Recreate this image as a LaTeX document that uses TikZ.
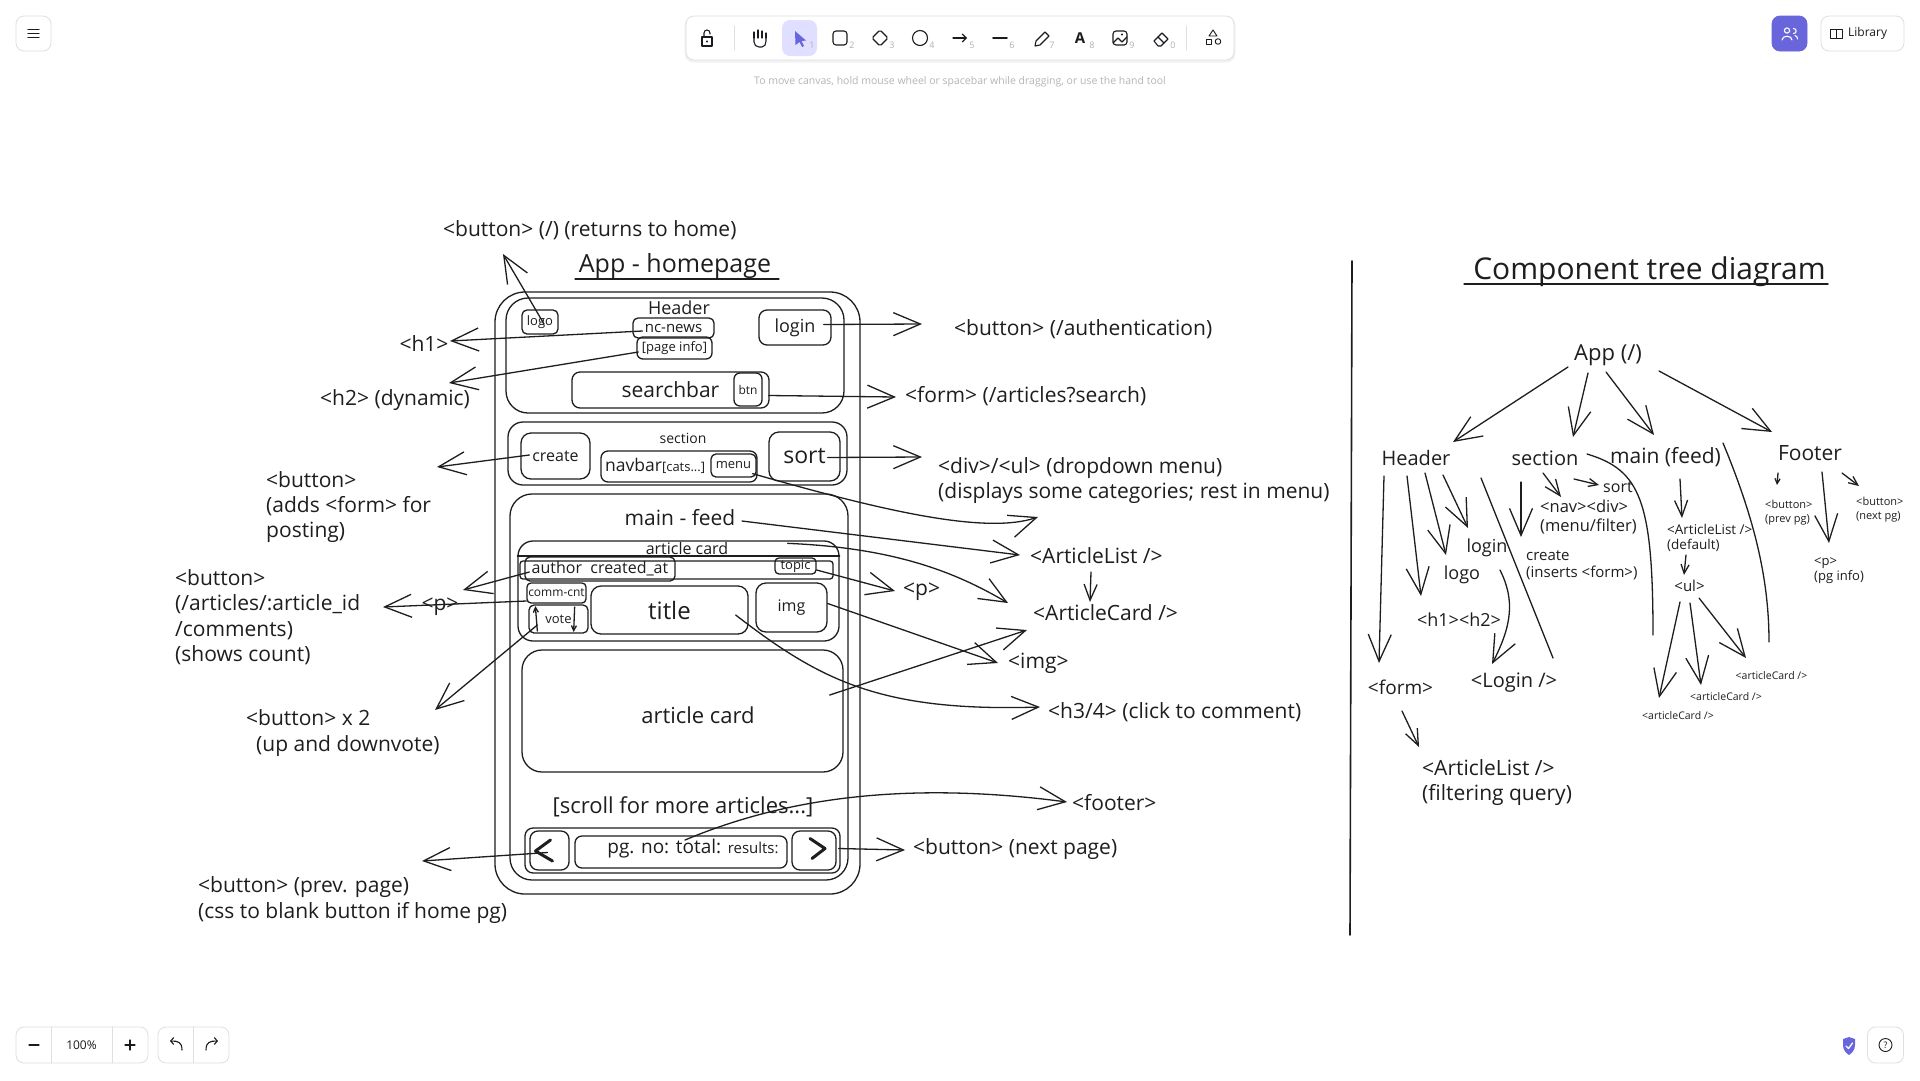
\documentclass[tikz,border=0pt]{standalone}
\usepackage{fontspec}
\setmainfont{Open Sans}
\usetikzlibrary{arrows.meta,calc}
\definecolor{ink}{HTML}{1E1E1E}
\definecolor{exc}{HTML}{6965DB}
\definecolor{selbg}{HTML}{E0DFFF}
\definecolor{uiline}{HTML}{DEDEE4}
\definecolor{hint}{HTML}{B5B5B5}
\definecolor{uiicon}{HTML}{1B1B1F}
\definecolor{digit}{HTML}{B0B0B8}
\tikzset{
  fs/.code={\pgfmathsetmacro\fsbs{1.21*#1}\edef\fstmp{\noexpand\tikzset{font=\noexpand\fontsize{#1}{\fsbs}\noexpand\selectfont}}\fstmp},
  fsb/.style 2 args={font=\fontsize{#1}{#2}\selectfont},
  bx/.style={draw=ink, line width=1.3pt, inner sep=0pt, text=ink, rounded corners=#1},
  ctr/.style={inner sep=0pt, text=ink},
  lbl/.style={inner sep=0pt, anchor=west, align=left, text=ink, fs=21},
  ln/.style={draw=ink, line width=1.3pt},
  arr/.style={ln, -{Straight Barb[length=27pt,width=23pt]}},
  arrm/.style={ln, -{Straight Barb[length=16pt,width=13pt]}},
  arrs/.style={ln, -{Straight Barb[length=9pt,width=8pt]}},
  arrt/.style={ln, -{Straight Barb[length=5pt,width=5pt]}},
  uibtn/.style={draw=uiline, fill=white, rounded corners=8pt, line width=0.8pt, inner sep=0pt},
  uiic/.style={draw=uiicon, line width=1.1pt},
}
\newcommand\wbox[8][16]{\node[bx=#7, fs=#1, minimum width=#5pt, minimum height=#6pt] (#2) at (#3,#4) {#8};}
\begin{document}
\begin{tikzpicture}[x=1pt,y=-1pt,line cap=round,line join=round]
\useasboundingbox[fill=white] (0,0) rectangle (1920,1080);

% ---------------- UI chrome ----------------
\node[uibtn, minimum width=35pt, minimum height=35pt] (menuBtn) at (33.5,33.5) {};
\draw[uiic] ($(menuBtn.center)+(-5.5,-4)$) -- ++(11,0);
\draw[uiic] ($(menuBtn.center)+(-5.5,0)$) -- ++(11,0);
\draw[uiic] ($(menuBtn.center)+(-5.5,4)$) -- ++(11,0);

\node[fill=black!5, rounded corners=9pt, minimum width=551pt, minimum height=46pt, inner sep=0pt] (tbShadow) at (960,39.5) {};
\node[uibtn, minimum width=548pt, minimum height=44pt] (toolbar) at (960,38) {};
\node[fill=selbg, rounded corners=8pt, minimum width=35pt, minimum height=36pt, inner sep=0pt] (selBg) at (799.5,38) {};
% lock
\draw[uiic] (702,37) rectangle (712,46);
\draw[uiic] (704,37) -- (704,33) arc (180:360:3) -- (710,34);
\fill[uiicon] (707,41.5) circle (1.1);
\draw[uiline, line width=1pt] (734,26) -- (734,50);
% hand
\draw[uiic, rounded corners=2pt] (754,37) -- (754,44) -- (757,47) -- (764,47) -- (766,43) -- (766,36);
\draw[uiic] (754,38) -- (754,32); \draw[uiic] (758,38) -- (758,30); \draw[uiic] (762,38) -- (762,31); \draw[uiic] (766,38) -- (766,33);
% cursor
\fill[exc] (795,31) -- (806,40.5) -- (801.5,41) -- (804,46) -- (802,47) -- (799.5,42) -- (795.5,45) -- cycle;
% rectangle
\draw[uiic, rounded corners=3pt] (833,31) rectangle (847,45);
% diamond
\draw[uiic, rounded corners=1.5pt] (880,30) -- (888,38) -- (880,46) -- (872,38) -- cycle;
% circle
\draw[uiic] (920,38) circle (7.5);
% arrow
\draw[uiic, -{Straight Barb[length=4pt,width=8pt]}] (953,38) -- (967,38);
% line
\draw[uiic, line width=1.6pt] (993,38) -- (1007,38);
% pencil
\draw[uiic] (1035,46) -- (1036,41) -- (1045,32) -- (1049,36) -- (1040,45) -- cycle;
% text
\node[ctr, fs=15, text=uiicon] (toolA) at (1080,38) {\textbf{A}};
% image
\draw[uiic, rounded corners=3pt] (1113,31) rectangle (1127,45);
\draw[uiic] (1113,43) -- (1118,38) -- (1122,42) -- (1127,37);
\fill[uiicon] (1122,34.5) circle (1.2);
% eraser
\draw[uiic] (1154,41) -- (1162,33) -- (1168,39) -- (1161,46) -- (1158,46) -- cycle;
\draw[uiic] (1158,37) -- (1164,43);
\draw[uiline, line width=1pt] (1186,26) -- (1186,50);
% shapes
\draw[uiic, line width=0.9pt] (1213,30) -- (1217,36) -- (1209,36) -- cycle;
\draw[uiic, line width=0.9pt] (1206,39) rectangle (1211,44);
\draw[uiic, line width=0.9pt] (1218,41.5) circle (2.8);
% digits
\foreach \dx/\dd in {812/1,852/2,892/3,932/4,972/5,1012/6,1052/7,1092/8,1132/9,1173/0}
  \node[ctr, fs=9, text=digit] (dg\dd) at (\dx,45) {\dd};
\node[ctr, fs=10.5, text=hint] (hintT) at (960,82) {To move canvas, hold mouse wheel or spacebar while dragging, or use the hand tool};

\node[uibtn, fill=exc, draw=exc, minimum width=35pt, minimum height=35pt] (collab) at (1789.5,33.5) {};
\draw[white, line width=1.1pt] (1787,30.5) circle (2.6);
\draw[white, line width=1.1pt] (1782,40) .. controls (1782,35) and (1792,35) .. (1792,40);
\draw[white, line width=1.1pt] (1793.5,28.5) .. controls (1797,28.5) and (1797,33.5) .. (1793.5,33.5);
\draw[white, line width=1.1pt] (1795,35.5) .. controls (1797,36) and (1797.5,37.5) .. (1797.5,39);
\node[uibtn, minimum width=83pt, minimum height=35pt] (libBtn) at (1862.5,33.5) {};
\draw[uiic, line width=0.9pt] (1830,29) rectangle (1836,38);
\draw[uiic, line width=0.9pt] (1836,29) rectangle (1842,38);
\node[ctr, anchor=west, fs=12, text=uiicon] (libT) at (1848,33.5) {Library};

\node[uibtn, minimum width=132pt, minimum height=36pt] (zoomGrp) at (82,1045) {};
\draw[uiline, line width=0.8pt] (51,1027) -- (51,1063);
\draw[uiline, line width=0.8pt] (112,1027) -- (112,1063);
\draw[uiic] (29,1045) -- (39,1045);
\draw[uiic] (125,1045) -- (135,1045);
\draw[uiic] (130,1040) -- (130,1050);
\node[ctr, fs=12, text=uiicon] (zoomPct) at (81.5,1045) {100\%};
\node[uibtn, minimum width=71pt, minimum height=36pt] (undoGrp) at (193.5,1045) {};
\draw[uiline, line width=0.8pt] (193.5,1027) -- (193.5,1063);
\draw[uiic, -{Straight Barb[length=3pt,width=7pt]}] (182,1050) .. controls (182,1042) and (178,1041) .. (170,1041);
\draw[uiic, -{Straight Barb[length=3pt,width=7pt]}] (206,1050) .. controls (206,1042) and (210,1041) .. (218,1041);
\fill[exc] (1843,1039) -- (1849,1037) -- (1855,1039) -- (1855,1045) .. controls (1855,1050) and (1852,1053) .. (1849,1055) .. controls (1846,1053) and (1843,1050) .. (1843,1045) -- cycle;
\draw[white, line width=1.3pt] (1846,1046) -- (1848.5,1048.5) -- (1852.5,1043);
\node[uibtn, minimum width=36pt, minimum height=36pt] (helpBtn) at (1885.5,1045) {};
\draw[uiic, line width=0.9pt] (helpBtn.center) circle (6.5);
\node[ctr, fs=9, text=uiicon] (helpQ) at (helpBtn.center) {?};

% ---------------- wireframe ----------------
\node[ctr, fs=25] (appT) at (675,266) {App - homepage};
\draw[ln] ($(appT.center)+(-100,13)$) -- ($(appT.center)+(104,13)$);

\wbox{outer}{677.5}{593}{365}{602}{30pt}{}
\wbox{header}{675}{355.5}{338}{115}{22pt}{}
\node[ctr, fs=18] (headerT) at (679,308) {Header};
\wbox[13]{logo}{540}{322}{36}{24}{5pt}{logo}
\wbox[15]{ncnews}{673.5}{328}{81}{20}{5pt}{nc-news}
\wbox[13]{pageinfo}{674.5}{348}{75}{22}{6pt}{[page info]}
\wbox[18]{login}{795}{327.5}{72}{35}{8pt}{login}
\wbox[21]{search}{670.5}{390}{197}{36}{8pt}{searchbar}
\wbox[12]{btn}{748}{389.5}{28}{33}{6pt}{btn}

\wbox{section}{677.5}{453.5}{339}{63}{15pt}{}
\node[ctr, fs=14] (sectionT) at (683,438) {section};
\wbox[16]{create}{555.5}{456}{69}{46}{10pt}{create}
\wbox{navbar}{679}{466.5}{156}{31}{7pt}{}
\node[ctr, anchor=west, fs=17.5] (navT) at (605,466) {navbar{\fontsize{13}{13}\selectfont[cats...]}};
\wbox[13]{menu}{733.5}{465.5}{45}{23}{5pt}{menu}
\wbox[23]{sort}{804.5}{456.5}{71}{49}{10pt}{sort}

\wbox{main}{679}{687}{338}{386}{22pt}{}
\node[ctr, fs=21] (feedT) at (680,518) {main - feed};
\wbox{card1}{678.5}{591}{321}{100}{15pt}{}
\node[ctr, fs=16] (card1T) at (687,548) {article card};
\draw[ln] ($(card1.west)+(0,-35)$) -- ($(card1.east)+(0,-35)$);
\wbox{rowbox}{676.5}{570}{313}{18}{3pt}{}
\wbox[16]{author}{600}{569}{150}{24}{5pt}{author\ \ created\_at}
\wbox[13]{topic}{795.5}{566}{41}{16}{4pt}{topic}
\wbox[12]{commcnt}{556.5}{593}{59}{20}{4pt}{comm-cnt}
\wbox[13]{vote}{558.5}{619}{59}{28}{5pt}{vote}
\draw[arrt] ($(vote.west)+(9,12)$) -- ($(vote.west)+(7,-13)$);
\draw[arrt] ($(vote.east)+(-14,-12)$) -- ($(vote.east)+(-15,13)$);
\wbox[24]{title}{669.5}{610}{157}{48}{10pt}{title}
\wbox[16]{img}{791.5}{607.5}{71}{49}{10pt}{img}
\wbox{card2}{682.5}{711}{321}{122}{20pt}{}
\node[ctr, fs=22] (card2T) at (698,715) {article card};
\node[ctr, fs=22] (scrollT) at (683,807) {[scroll for more articles...]};
\wbox{footer}{682.5}{850.5}{315}{45}{8pt}{}
\wbox{prev}{549.5}{850.5}{39}{39}{8pt}{}
\wbox{pg}{681}{852}{212}{32}{7pt}{}
\wbox{next}{814}{850.5}{44}{39}{8pt}{}
\node[ctr, fs=19] (pgT) at (693,849) {pg. no: total: {\fontsize{15}{15}\selectfont results:}};
\draw[ink, line width=3pt] ($(prev.center)+(1,-10.5)$) -- ($(prev.center)+(-14,0.5)$) -- ($(prev.center)+(3,10.5)$);
\draw[ink, line width=3pt] ($(next.center)+(-4,-12)$) -- ($(next.center)+(11,-2)$) -- ($(next.center)+(-2,8)$);

% left labels
\node[lbl] (tHome) at (443,230) {<button> (/) (returns to home)};
\node[lbl, anchor=center] (tH1) at (424,344) {<h1>};
\node[lbl] (tH2) at (320,400) {<h2> (dynamic)};
\node[lbl] (tCreate) at (266,507) {<button>\\(adds <form> for\\posting)};
\node[lbl] (tComm) at (175,617) {<button>\\(/articles/:article\_id\\/comments)\\(shows count)};
\node[lbl, anchor=center] (tP) at (440,607) {<p>};
\node[lbl] (tVote) at (246,733) {<button> x 2\\\hspace*{10pt}(up and downvote)};
\node[lbl] (tPrev) at (198,900) {<button> (prev. page)\\(css to blank button if home pg)};
% right labels
\node[lbl] (tAuth) at (954,329) {<button> (/authentication)};
\node[lbl] (tSearch) at (905,396) {<form> (/articles?search)};
\node[lbl] (tMenu) at (938,480.5) {<div>/<ul> (dropdown menu)\\(displays some categories; rest in menu)};
\node[lbl] (tAL) at (1030,556) {<ArticleList />};
\node[lbl] (tAC) at (1033,613) {<ArticleCard />};
\node[lbl] (tP2) at (903,592) {<p>};
\node[lbl] (tImg) at (1008,663) {<img>};
\node[lbl] (tH3) at (1048,712) {<h3/4> (click to comment)};
\node[lbl] (tFooter) at (1072,803) {<footer>};
\node[lbl] (tNext) at (913,849) {<button> (next page)};

% wireframe connectors
\coordinate (pHome) at (503,254);
\draw[arr] ($(logo.center)+(4,2)$) -- (pHome);
\coordinate (pH1) at (450,341);
\draw[arr] ($(ncnews.west)+(10,3)$) -- (pH1);
\coordinate (pH2) at (449,383);
\draw[arr] ($(pageinfo.west)+(2,4)$) -- (pH2);
\coordinate (pCreate) at (437,467);
\draw[arr] ($(create.west)+(9,-1)$) -- (pCreate);
\coordinate (pP) at (463,590);
\draw[arr] ($(author.west)+(5,3)$) -- (pP);
\coordinate (pComm) at (383,607);
\draw[arr] ($(commcnt.west)+(0,8)$) -- (pComm);
\coordinate (pVote) at (435,710);
\draw[arr] ($(vote.west)+(9,6)$) -- (pVote);
\coordinate (pPrev) at (422,861);
\draw[arr] ($(prev.center)+(-2,2)$) -- (pPrev);
\coordinate (pAuth) at (922,324);
\draw[arr] ($(login.east)+(-8,-3)$) -- (pAuth);
\coordinate (pSearch) at (896,397);
\draw[arr] ($(btn.east)+(6,6)$) -- (pSearch);
\coordinate (pSort) at (922,457);
\draw[arr] ($(sort.east)+(-13,1)$) -- (pSort);
\coordinate (pMenu) at (1038,517);
\draw[arr] ($(menu.south east)+(-4,-4)$) .. controls (880,510) and (985,535) .. (pMenu);
\coordinate (pAL) at (1020,555);
\draw[arr] ($(feedT.center)+(62,3)$) -- (pAL);
\coordinate (pAC1) at (1008,603);
\draw[arr] ($(card1.north east)+(-52,3)$) .. controls (900,548) and (960,575) .. (pAC1);
\coordinate (pP2) at (895,591);
\draw[arr] ($(topic.east)+(0,4)$) -- (pP2);
\coordinate (pImg) at (998,663);
\draw[arr] ($(img.east)+(0,-4)$) -- (pImg);
\coordinate (pAC2) at (1027,630);
\draw[arr] ($(card2.east)+(-14,-16)$) -- (pAC2);
\coordinate (pH3) at (1040,707);
\draw[arr] ($(title.east)+(-13,5)$) .. controls (820,680) and (880,712) .. (pH3);
\coordinate (pFoot) at (1067,802);
\draw[arr] ($(pg.center)+(4,-12)$) .. controls (780,800) and (900,780) .. (pFoot);
\coordinate (pNext) at (905,850);
\draw[arr] ($(next.east)+(2,-2)$) -- (pNext);
\draw[arrm] ($(tAL.west)+(61,16)$) -- ($(tAC.west)+(57,-11)$);

% divider
\draw[ink, line width=1.6pt] (1352,261) -- (1350,935);

% ---------------- component tree ----------------
\node[ctr, fs=30] (cTitle) at (1649.5,272) {Component tree diagram};
\draw[ln] ($(cTitle.center)+(-185.5,12)$) -- ($(cTitle.center)+(178.5,12)$);
\node[ctr, fs=22] (cApp) at (1608,355) {App (/)};
\node[ctr, fs=20] (cHeader) at (1416,458) {Header};
\node[ctr, fs=20] (cSection) at (1545,458) {section};
\node[ctr, fs=21] (cMain) at (1665.5,457) {main (feed)};
\node[ctr, fs=21] (cFooter) at (1810,453) {Footer};
\node[ctr, fs=19] (cForm) at (1400.5,687) {<form>};
\node[ctr, fs=18] (cH1H2) at (1459,620) {<h1><h2>};
\node[ctr, fs=18] (cLogo) at (1462,575) {logo};
\node[ctr, fs=18] (cLogin) at (1487,548) {login};
\node[ctr, fs=20] (cLoginC) at (1514,683) {<Login />};
\node[ctr, anchor=west, align=left, fsb={15}{17}] (cCreate) at (1526,565.5) {create\\(inserts <form>)};
\node[ctr, anchor=west, align=left, fsb={16.5}{19}] (cNav) at (1540,517.5) {<nav><div>\\(menu/filter)};
\node[ctr, anchor=west, fs=16] (cSort) at (1603,487) {sort};
\node[ctr, anchor=west, align=left, fsb={13.5}{15}] (cALd) at (1667,537.5) {<ArticleList />\\(default)};
\node[ctr, fs=15] (cUl) at (1689.5,586) {<ul>};
\node[ctr, fs=10.5] (cCardA) at (1678,716) {<articleCard />};
\node[ctr, fs=10.5] (cCardB) at (1726,697) {<articleCard />};
\node[ctr, fs=10.5] (cCardC) at (1771.5,676) {<articleCard />};
\node[ctr, anchor=west, align=left, fsb={11}{14.5}] (cPrev) at (1765,512.5) {<button>\\(prev pg)};
\node[ctr, anchor=west, align=left, fsb={13}{15.5}] (cPinfo) at (1814,570.5) {<p>\\(pg info)};
\node[ctr, anchor=west, align=left, fsb={11}{14}] (cNextpg) at (1856,510) {<button>\\(next pg)};
\node[ctr, anchor=west, align=left, fsb={21}{25}] (cALf) at (1422,782.5) {<ArticleList />\\(filtering query)};

\draw[arr] ($(cApp)+(-40,12)$) -- ($(cHeader)+(37,-16)$);
\draw[arr] ($(cApp)+(-20,18)$) -- ($(cSection)+(28,-21)$);
\draw[arr] ($(cApp)+(-2,17)$) -- ($(cMain)+(-11.5,-22)$);
\draw[arr] ($(cApp)+(51,16)$) -- ($(cFooter)+(-38,-21)$);
\draw[arr] ($(cHeader)+(-32,18)$) -- ($(cForm)+(-21.5,-24)$);
\draw[arr] ($(cHeader)+(-9,18)$) -- ($(cH1H2)+(-38,-24)$);
\draw[arr] ($(cHeader)+(9,15)$) -- ($(cLogo)+(-16,-20)$);
\draw[arr] ($(cHeader)+(27,17)$) -- ($(cLogin)+(-19,-20)$);
\draw[arr] ($(cLogin)+(13,22)$) .. controls (1515,600) and (1512,625) .. ($(cLoginC)+(-22,-19)$);
\draw[ln] ($(cHeader)+(65,20)$) -- ($(cLoginC)+(39,-25)$);
\draw[arr] ($(cSection)+(-24,24)$) -- ($(cCreate.west)+(-5,-28.5)$);
\draw[arrm] ($(cSection)+(-2,15)$) -- ($(cNav.west)+(21,-20.5)$);
\draw[arrs] ($(cSection)+(29,21)$) -- ($(cSort.west)+(-4,-2)$);
\draw[ln] ($(cSection)+(42,-4)$) .. controls (1640,470) and (1653,500) .. ($(cUl)+(-36.5,49)$);
\draw[arrm] ($(cMain)+(14.5,22)$) -- ($(cALd.west)+(15,-19.5)$);
\draw[arrs] ($(cALd.west)+(19,17.5)$) -- ($(cUl)+(-5.5,-11)$);
\draw[arr] ($(cUl)+(-9.5,16)$) -- ($(cCardA)+(-19,-18)$);
\draw[arr] ($(cUl)+(0.5,17)$) -- ($(cCardB)+(-25,-12)$);
\draw[arr] ($(cUl)+(9.5,12)$) -- ($(cCardC)+(-25.5,-18)$);
\draw[ln] ($(cMain)+(57.5,-14)$) .. controls (1755,520) and (1769,580) .. ($(cCardC)+(-2.5,-34)$);
\draw[arrt] ($(cFooter)+(-32,20)$) -- ($(cPrev.west)+(12,-27.5)$);
\draw[arr] ($(cFooter)+(12,19)$) -- ($(cPinfo.west)+(15,-27.5)$);
\draw[arrs] ($(cFooter)+(32,20)$) -- ($(cNextpg.west)+(3,-24)$);
\draw[arrm] ($(cForm)+(1.5,24)$) -- ($(cALf.west)+(-3,-35.5)$);
\end{tikzpicture}
\end{document}
